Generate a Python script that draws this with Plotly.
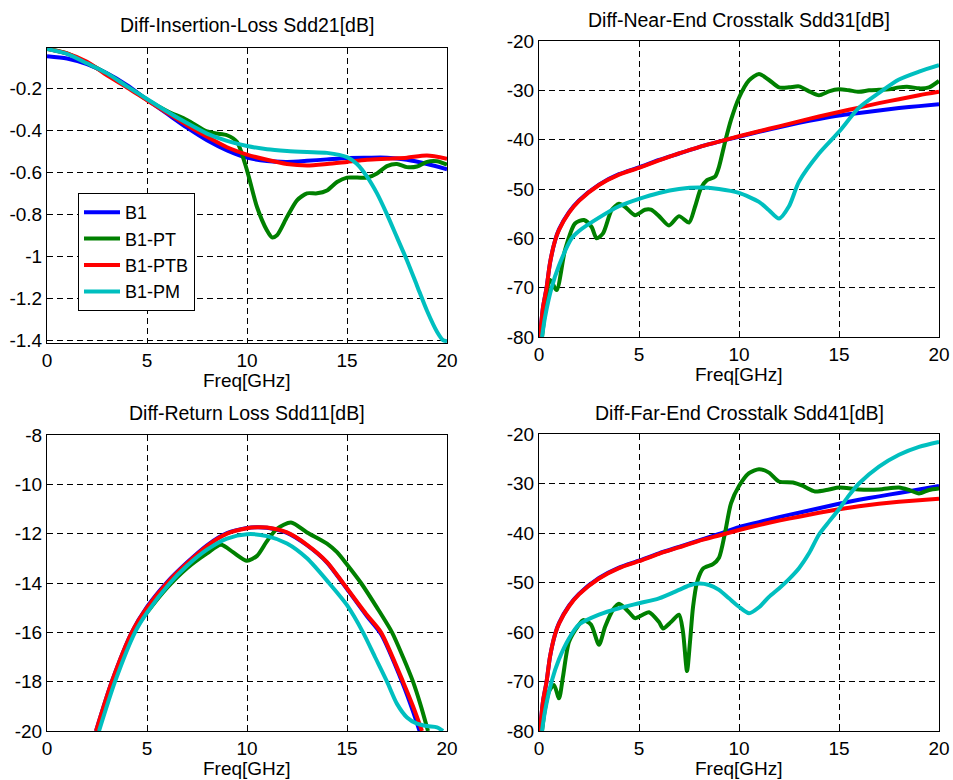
import plotly.graph_objects as go

W, H = 953, 780
names = ["B1", "B1-PT", "B1-PTB", "B1-PM"]
colors = ["#0000FF", "#008000", "#FF0000", "#00BFBF"]

# ---------------- Insertion loss Sdd21 ----------------
il_f = [0, 1, 2, 3, 4, 5, 6, 7, 8, 9, 10, 11, 12, 13, 14, 15, 16, 17, 18, 19, 20]
il_b1 = [-0.046, -0.057, -0.084, -0.128, -0.184, -0.253, -0.320, -0.387, -0.447, -0.495, -0.530,
         -0.546, -0.550, -0.545, -0.538, -0.531, -0.530, -0.530, -0.540, -0.560, -0.585]
il_ptb = [-0.012, -0.033, -0.073, -0.137, -0.195, -0.256, -0.316, -0.375, -0.430, -0.480, -0.515,
          -0.540, -0.560, -0.567, -0.560, -0.550, -0.540, -0.535, -0.530, -0.520, -0.535]
il_pt_f = [0, 1, 2, 3, 4, 5, 6, 7, 8, 8.5, 9, 9.5, 10, 10.5, 11, 11.25, 11.5, 12, 12.5, 13, 13.5, 14,
           14.5, 15, 16, 16.5, 17, 17.5, 18, 18.5, 19, 19.5, 20]
il_pt = [-0.010, -0.033, -0.078, -0.130, -0.190, -0.253, -0.307, -0.350, -0.405, -0.415, -0.423, -0.455,
         -0.590, -0.765, -0.877, -0.910, -0.900, -0.813, -0.733, -0.700, -0.700, -0.686, -0.646, -0.625,
         -0.625, -0.605, -0.570, -0.560, -0.575, -0.572, -0.550, -0.547, -0.563]
il_pm_f = [0, 1, 2, 3, 4, 5, 6, 7, 8, 9, 10, 11, 12, 13, 14, 15, 15.5, 16, 16.5, 17, 17.5, 18, 18.5,
           19, 19.5, 19.8, 20]
il_pm = [-0.012, -0.035, -0.080, -0.128, -0.190, -0.250, -0.310, -0.365, -0.415, -0.450, -0.474, -0.490,
         -0.498, -0.503, -0.507, -0.527, -0.560, -0.620, -0.700, -0.800, -0.910, -1.020, -1.140, -1.260,
         -1.360, -1.400, -1.405]

# ---------------- Near-end crosstalk Sdd31 ----------------
nx_f = [0.05, 0.2, 0.38, 0.55, 0.8, 1, 1.5, 2, 3, 4, 5, 6, 7, 8, 9, 10, 11, 12, 13, 14, 15, 16, 17, 18, 19, 20]
nx_b1 = [-80, -74, -70, -65, -60.5, -58.2, -54.7, -52.3, -49.1, -47.0, -45.6, -44.1, -42.8, -41.5, -40.4,
         -39.4, -38.4, -37.5, -36.6, -35.8, -35.1, -34.6, -34.1, -33.6, -33.2, -32.8]
nx_ptb = [-80, -74, -70, -65, -60.5, -58.3, -54.8, -52.4, -49.2, -47.1, -45.7, -44.2, -42.8, -41.5, -40.4,
          -39.3, -38.3, -37.3, -36.3, -35.3, -34.4, -33.5, -32.6, -31.8, -31.0, -30.3]
nx_pt_f = [0.15, 0.3, 0.55, 0.88, 1.3, 1.8, 2.25, 2.63, 2.88, 3.2, 3.63, 4.0, 4.3, 4.8, 5.3, 5.6, 6.0, 6.5,
           7.0, 7.5, 7.8, 8.1, 8.4, 8.8, 9.0, 9.3, 9.6, 10.0, 10.5, 11.0, 11.5, 12.0, 12.5, 13.0, 13.5, 14.0,
           14.5, 15.0, 15.5, 16.0, 16.5, 17.0, 17.5, 18.0, 18.5, 19.0, 19.5, 20.0]
nx_pt = [-80, -75, -68.4, -70.5, -62.4, -57, -56.3, -57.7, -60, -59, -54.3, -53, -53.6, -55.3, -54.2, -54.2,
         -55.5, -57.4, -55.5, -56.8, -53.6, -49.8, -48.2, -47.5, -45.5, -40.5, -36, -31.5, -28, -26.7, -27.9,
         -29.4, -29.4, -29.2, -30.2, -31, -30.2, -29.8, -30, -30.3, -30, -29.9, -29.8, -29.4, -29.3, -29.6,
         -29.4, -28.1]
nx_pm_f = [0.15, 0.3, 0.63, 1, 1.63, 2, 3, 4, 5, 6, 7, 8, 9, 10, 11, 11.5, 12, 12.5, 13, 14, 15, 16, 17,
           18, 19, 20]
nx_pm = [-80, -76, -70, -65.5, -60, -58.5, -55.8, -53.5, -52, -50.8, -50, -49.7, -50, -50.8, -52.6, -54.3,
         -56, -53.5, -48.5, -42.8, -38.4, -33.5, -30.5, -27.8, -26.2, -24.9]

# ---------------- Return loss Sdd11 ----------------
rl_f = [2.45, 3.24, 4.24, 5, 6, 7, 8, 9, 10, 10.5, 11, 12, 13, 14, 14.8, 16, 16.7, 17.8, 18.3, 18.75]
rl_b1 = [-20, -18, -16, -14.97, -13.97, -13.17, -12.47, -11.98, -11.77, -11.74, -11.76, -11.97, -12.47,
         -13.17, -14.02, -15.35, -16.07, -18.1, -19.2, -20.3]
rl_ptb = [-20, -18, -16, -15.0, -14.0, -13.2, -12.5, -12.0, -11.78, -11.74, -11.75, -11.95, -12.45,
          -13.15, -14.0, -15.3, -16.0, -18.0, -19.0, -20.0]
rl_pt_f = [2.55, 3.3, 4.3, 5, 6, 7, 8, 8.7, 9.3, 10, 10.5, 11, 11.5, 12.2, 13, 14, 14.5, 15, 15.7, 16.5,
           17.25, 17.8, 18.3, 18.7, 19.05]
rl_pt = [-20, -18, -16, -15.2, -14.2, -13.4, -12.8, -12.45, -12.75, -13.1, -12.9, -12.3, -11.8, -11.55,
         -11.95, -12.4, -12.75, -13.25, -14.0, -15.0, -16.0, -17.0, -18.0, -19.0, -20.0]
rl_pm_f = [2.6, 3.4, 4.4, 5, 6.15, 7, 8, 9, 10, 11, 12, 13, 14.1, 15, 15.8, 16.4, 17, 17.5, 18, 18.5, 19,
           19.5, 19.8]
rl_pm = [-20, -18, -16, -15.2, -14, -13.3, -12.65, -12.2, -12.02, -12.1, -12.4, -13.0, -14, -14.9, -16,
         -17, -18, -18.9, -19.45, -19.7, -19.8, -19.85, -20]

# ---------------- Far-end crosstalk Sdd41 ----------------
fx_f = [0.05, 0.2, 0.38, 0.55, 0.8, 1, 1.5, 2, 3, 4, 5, 6, 7, 8, 9, 10, 11, 12, 13, 14, 15, 16, 17, 18, 19, 20]
fx_b1 = [-80, -74, -70, -65, -60.5, -58.2, -54.7, -52.3, -49.1, -47.0, -45.6, -44.1, -42.8, -41.5, -40.2,
         -38.8, -37.8, -36.8, -35.9, -35.0, -34.1, -33.3, -32.6, -31.9, -31.2, -30.5]
fx_ptb = [-80, -74, -70, -65, -60.5, -58.3, -54.8, -52.4, -49.2, -47.1, -45.7, -44.2, -42.9, -41.6, -40.5,
          -39.4, -38.4, -37.5, -36.7, -35.9, -35.2, -34.6, -34.1, -33.7, -33.4, -33.1]
fx_pt_f = [0.15, 0.3, 0.5, 0.75, 1.0, 1.2, 1.5, 2.0, 2.2, 2.6, 3.0, 3.3, 3.7, 4.0, 4.5, 4.8, 5.2, 5.5, 6.0,
           6.2, 6.6, 7.0, 7.2, 7.4, 7.55, 7.7, 7.9, 8.2, 8.7, 9.0, 9.3, 9.6, 10.0, 10.5, 11.0, 11.5, 12.0,
           12.7, 13.2, 13.8, 14.5, 15.0, 16.0, 17.0, 18.0, 18.5, 19.0, 19.5, 20.0]
fx_pt = [-80, -75.5, -72, -70.7, -73.4, -69, -62, -58.5, -57.6, -58.5, -62.6, -59, -55.5, -54.3, -56, -57.2,
         -56.5, -56, -58, -59.3, -58, -56.5, -60, -67.9, -62, -55, -50, -47.2, -46.3, -45, -40, -34, -30.5,
         -27.9, -27.1, -27.8, -29.6, -29.8, -30.5, -31.6, -31.2, -30.8, -31.2, -31.2, -30.8, -31.3, -32,
         -31.3, -31]
fx_pm_f = [0.15, 0.3, 0.63, 1, 1.5, 2, 3, 4, 5, 6, 7, 7.5, 8, 8.5, 9, 9.5, 10, 10.5, 11, 11.5, 12, 12.5, 13,
           13.5, 14, 14.5, 15, 15.5, 16, 17, 18, 19, 20]
fx_pm = [-80, -76, -70, -65.5, -61.3, -58.5, -56.5, -55.2, -54.2, -53.2, -51.5, -50.6, -50.2, -50.5, -51.5,
         -53.2, -54.9, -56.2, -55, -52.9, -51.2, -49.3, -47.1, -44.1, -40.3, -37.7, -35.2, -32.4, -30, -26.6,
         -24.2, -22.6, -21.6]

titles = ["Diff-Insertion-Loss Sdd21[dB]", "Diff-Near-End Crosstalk Sdd31[dB]",
          "Diff-Return Loss Sdd11[dB]", "Diff-Far-End Crosstalk Sdd41[dB]"]
x_label = "Freq[GHz]"
x_ticks = [0, 5, 10, 15, 20]
y_ticks = [
    [-1.4, -1.2, -1.0, -0.8, -0.6, -0.4, -0.2],
    [-80, -70, -60, -50, -40, -30, -20],
    [-20, -18, -16, -14, -12, -10, -8],
    [-80, -70, -60, -50, -40, -30, -20],
]
y_ticktext = [
    ["-1.4", "-1.2", "-1", "-0.8", "-0.6", "-0.4", "-0.2"],
    ["-80", "-70", "-60", "-50", "-40", "-30", "-20"],
    ["-20", "-18", "-16", "-14", "-12", "-10", "-8"],
    ["-80", "-70", "-60", "-50", "-40", "-30", "-20"],
]
y_ranges = [[-1.4135, -0.007], [-80, -20], [-20, -8], [-80, -20]]

panels = [
    [(il_f, il_b1), (il_pt_f, il_pt), (il_f, il_ptb), (il_pm_f, il_pm)],
    [(nx_f, nx_b1), (nx_pt_f, nx_pt), (nx_f, nx_ptb), (nx_pm_f, nx_pm)],
    [(rl_f, rl_b1), (rl_pt_f, rl_pt), (rl_f, rl_ptb), (rl_pm_f, rl_pm)],
    [(fx_f, fx_b1), (fx_pt_f, fx_pt), (fx_f, fx_ptb), (fx_pm_f, fx_pm)],
]

# pixel boxes of the axes: left, right, top, bottom
boxes = [(47, 447, 48, 343), (539, 939, 41, 337), (47, 447, 435, 731), (539, 939, 434, 731)]
title_y = [25, 20, 413, 413]
xlabel_y = [380, 374, 768, 768]

FONT = "Liberation Sans, Arial, Helvetica, sans-serif"

fig = go.Figure()
layout = dict(
    width=W, height=H, margin=dict(l=0, r=0, t=0, b=0, autoexpand=False),
    paper_bgcolor="white", plot_bgcolor="white",
    font=dict(family=FONT, size=19, color="black"),
    showlegend=True,
    legend=dict(x=78 / W, y=1 - 193 / H, xanchor="left", yanchor="top",
                bordercolor="black", borderwidth=1, bgcolor="white",
                font=dict(size=18, family=FONT), tracegroupgap=0, itemwidth=36),
    annotations=[],
)

for i, series in enumerate(panels):
    sfx = "" if i == 0 else str(i + 1)
    for j, (fx, fy) in enumerate(series):
        fig.add_trace(go.Scatter(
            x=fx, y=fy, mode="lines", name=names[j],
            line=dict(color=colors[j], width=4, shape="spline", smoothing=0.7),
            xaxis="x" + sfx, yaxis="y" + sfx, showlegend=(i == 0),
        ))
    l, r, t, b = boxes[i]
    common = dict(showgrid=True, gridcolor="#000000", gridwidth=1, griddash="6px,4px",
                  showline=True, linecolor="#000000", linewidth=1, mirror=True,
                  ticks="inside", ticklen=4, tickcolor="#000000", zeroline=False,
                  automargin=False,
                  tickfont=dict(size=19, family=FONT, color="black"), fixedrange=True)
    layout["xaxis" + sfx] = dict(common, domain=[l / W, r / W], range=[0, 20],
                                 tickvals=x_ticks, ticktext=[str(v) for v in x_ticks],
                                 anchor="y" + sfx)
    layout["yaxis" + sfx] = dict(common, domain=[1 - b / H, 1 - t / H], range=y_ranges[i],
                                 tickvals=y_ticks[i], ticktext=y_ticktext[i],
                                 anchor="x" + sfx)
    layout["annotations"].append(dict(
        text=titles[i], x=(l + r) / 2 / W, y=1 - title_y[i] / H, xref="paper", yref="paper",
        xanchor="center", yanchor="middle", showarrow=False, font=dict(size=19.5, family=FONT)))
    layout["annotations"].append(dict(
        text=x_label, x=(l + r) / 2 / W, y=1 - xlabel_y[i] / H, xref="paper", yref="paper",
        xanchor="center", yanchor="middle", showarrow=False, font=dict(size=19, family=FONT)))

fig.update_layout(**layout)
fig.write_html("out.html", config={"displayModeBar": False})
